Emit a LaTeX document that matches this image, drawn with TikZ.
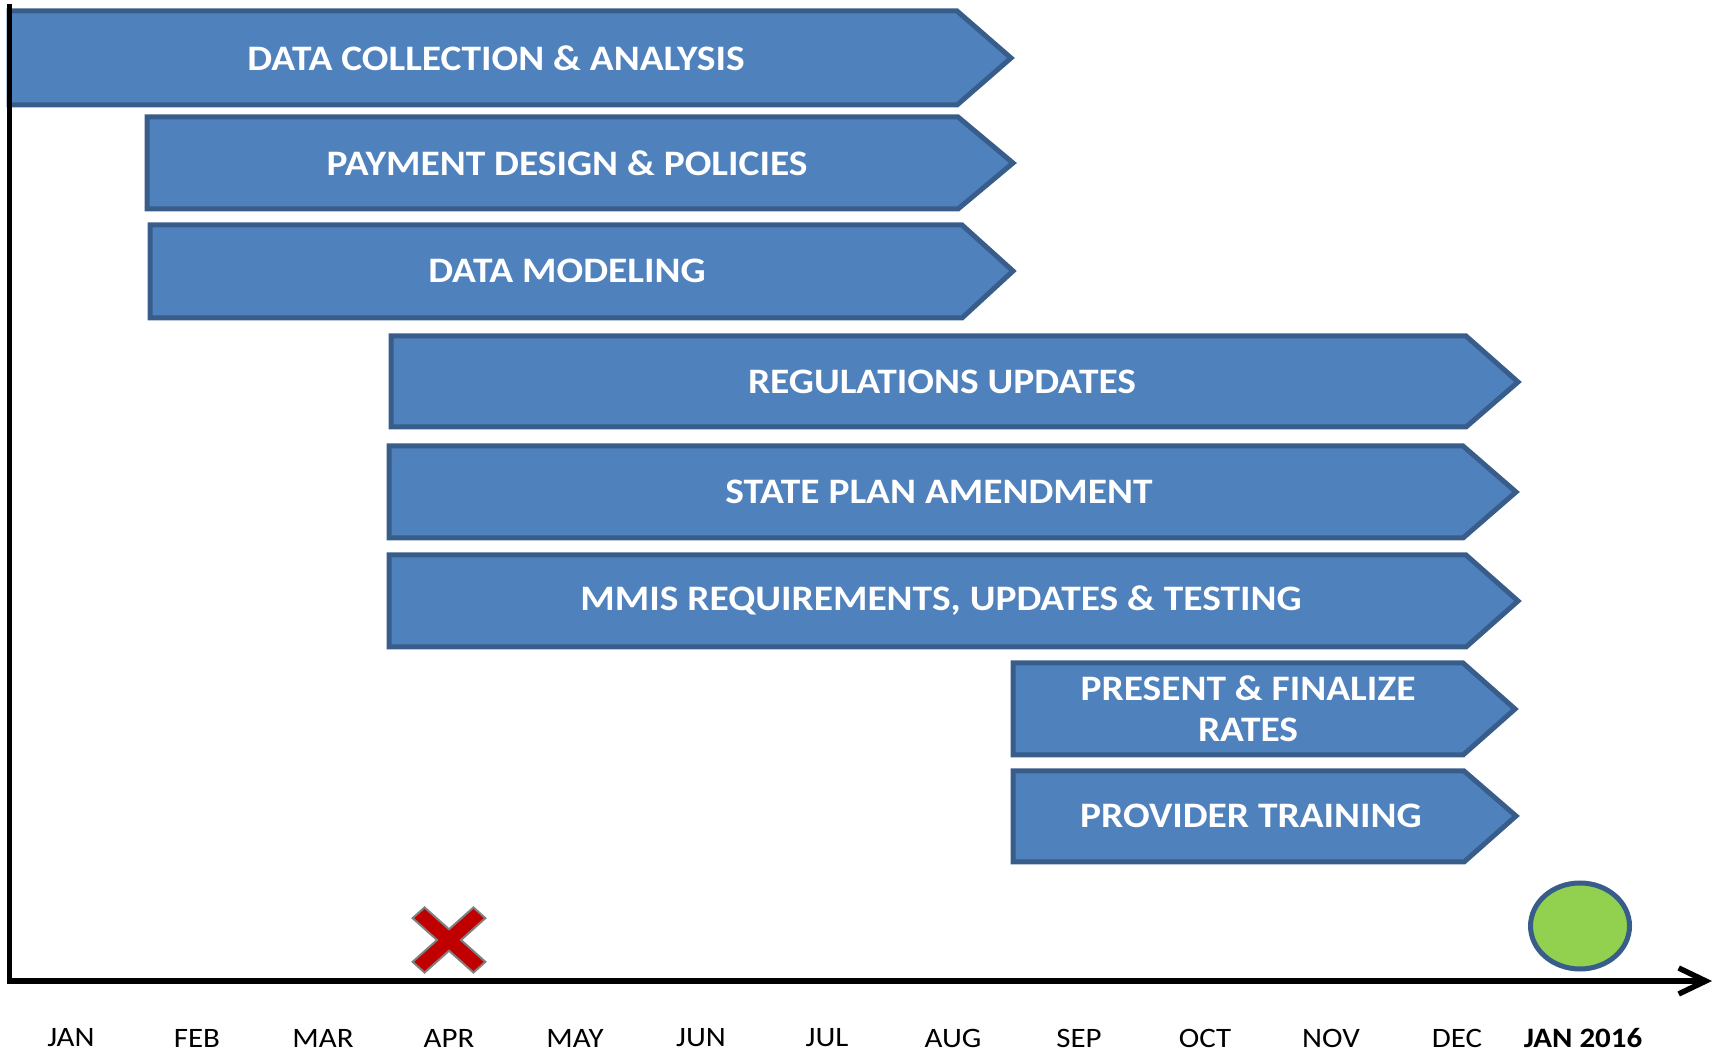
\documentclass[tikz,border=0pt]{standalone}
\usepackage{fontspec}
\setmainfont{Carlito}[FakeStretch=1.1]
\usetikzlibrary{arrows.meta,shapes.geometric}
\definecolor{barblue}{HTML}{4F81BD}
\definecolor{barline}{HTML}{385D8A}
\definecolor{xred}{HTML}{C00000}
\definecolor{dotgreen}{HTML}{92D050}
\tikzset{
  task/.style={fill=barblue, draw=barline, line width=0.5mm},
  tasktext/.style={text=white, align=center, font=\bfseries\fontsize{10.2}{11.7}\selectfont},
  month/.style={font=\fontsize{8}{10}\selectfont},
  monthbold/.style={font=\bfseries\fontsize{8}{10}\selectfont},
  axis/.style={line width=0.55mm, -{Straight Barb[length=2.7mm,width=2.6mm,line width=0.55mm]}}
}
\begin{document}
\begin{tikzpicture}[x=0.1mm, y=-0.1mm]
			\useasboundingbox (0,0) rectangle (1714,1054);
			% task bars
			\draw[task] (9,11)--(957,11)--(1011,58)--(957,105)--(9,105)--cycle;
			\draw[task] (147,117)--(958,117)--(1013,163)--(958,209)--(147,209)--cycle;
			\draw[task] (150,225)--(962,225)--(1013,271)--(962,318)--(150,318)--cycle;
			\draw[task] (391,336)--(1466,336)--(1518,382)--(1466,427)--(391,427)--cycle;
			\draw[task] (389,446)--(1463,446)--(1516,492)--(1463,538)--(389,538)--cycle;
			\draw[task] (389,555)--(1466,555)--(1518,601)--(1466,647)--(389,647)--cycle;
			\draw[task] (1013,663)--(1463,663)--(1515,709)--(1463,755)--(1013,755)--cycle;
			\draw[task] (1013,771)--(1464,771)--(1516,816)--(1464,862)--(1013,862)--cycle;
			\node[tasktext] (collect) at (496,58) {DATA COLLECTION \& ANALYSIS};
			\node[tasktext] (payment) at (567,163) {PAYMENT DESIGN \& POLICIES};
			\node[tasktext] (model) at (567,271) {DATA MODELING};
			\node[tasktext] (regs) at (942,382) {REGULATIONS UPDATES};
			\node[tasktext] (spa) at (939,492) {STATE PLAN AMENDMENT};
			\node[tasktext] (mmis) at (941,601) {MMIS REQUIREMENTS, UPDATES \& TESTING};
			\node[tasktext] (rates) at (1248,709) {PRESENT \& FINALIZE\\RATES};
			\node[tasktext] (training) at (1251,816) {PROVIDER TRAINING};
			% axes
			\coordinate (top) at (9.5,4);
			\coordinate (origin) at (9.5,981);
			\coordinate (xend) at (1712,981);
			\draw[axis] (top)--(origin)--(xend);
			% months
			\foreach \m [count=\i from 0] in {JAN,FEB,MAR,APR,MAY,JUN,JUL,AUG,SEP,OCT,NOV,DEC}
				\node[month] (m\i) at (71+126*\i,1038) {\m};
			\node[monthbold] (jan16) at (1583,1038) {JAN 2016};
			% markers
			\begin{scope}[shift={(449,940)}, xscale=1.04, yscale=0.93]
				\draw[fill=xred, draw=gray, line width=0.2mm] (0,-11.5)--(23.5,-35)--(35,-23.5)--(11.5,0)--(35,23.5)--(23.5,35)--(0,11.5)--(-23.5,35)--(-35,23.5)--(-11.5,0)--(-35,-23.5)--(-23.5,-35)--cycle;
			\end{scope}
			\node[ellipse, fill=dotgreen, draw=barline, line width=0.5mm, minimum width=9.9mm, minimum height=8.6mm, inner sep=0pt] (golive) at (1580,926) {};
		\end{tikzpicture}
\end{document}
